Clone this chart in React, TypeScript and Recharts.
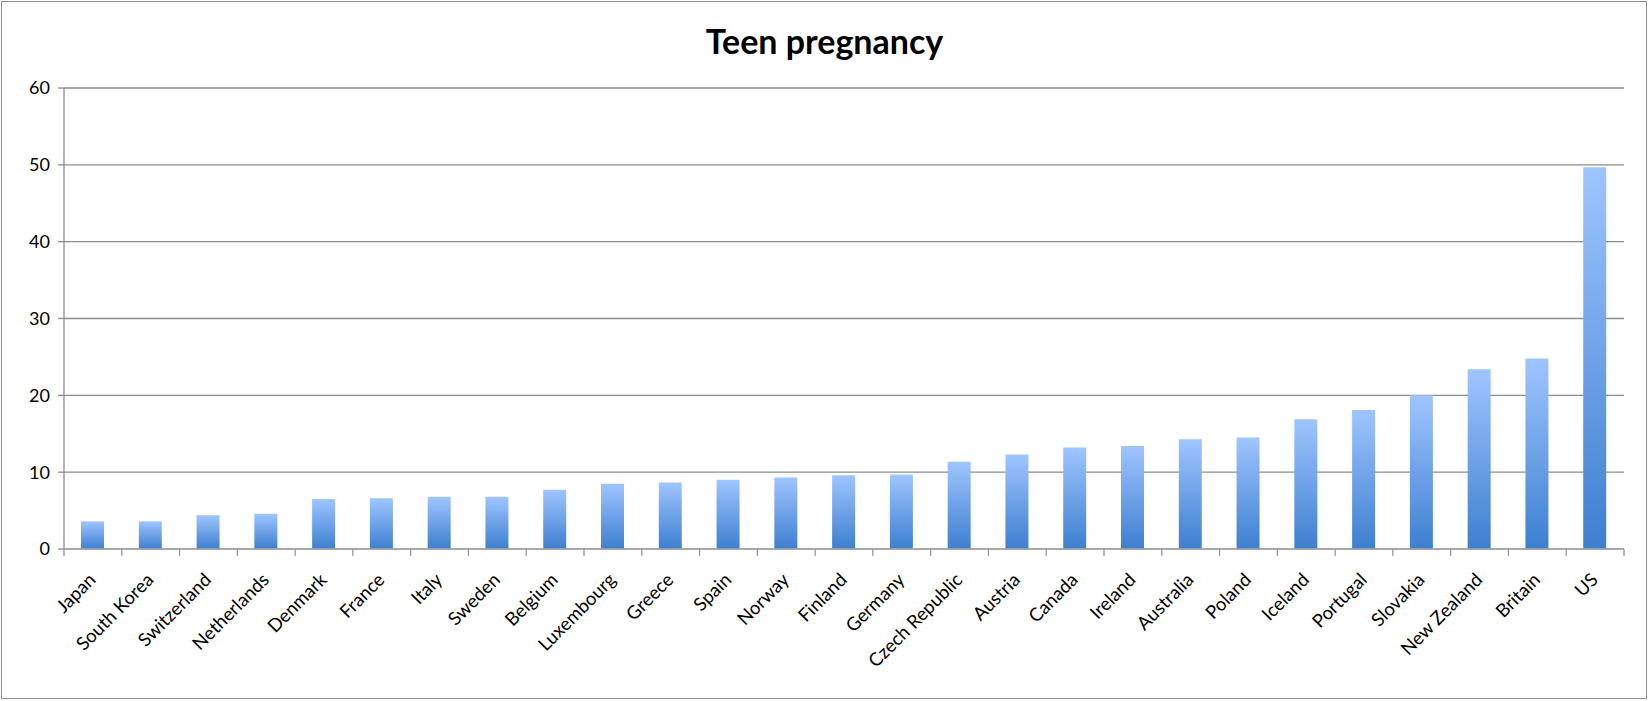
import React from "react";
import { BarChart, Bar, XAxis, YAxis, CartesianGrid } from "recharts";

const countries = [
  "Japan", "South Korea", "Switzerland", "Netherlands", "Denmark", "France", "Italy",
  "Sweden", "Belgium", "Luxembourg", "Greece", "Spain", "Norway", "Finland", "Germany",
  "Czech Republic", "Austria", "Canada", "Ireland", "Australia", "Poland", "Iceland",
  "Portugal", "Slovakia", "New Zealand", "Britain", "US",
];
const rates = [
  3.6, 3.6, 4.4, 4.6, 6.5, 6.6, 6.8, 6.8, 7.7, 8.5, 8.65, 9.0, 9.3, 9.6, 9.7,
  11.35, 12.3, 13.2, 13.4, 14.3, 14.5, 16.9, 18.1, 20.0, 23.4, 24.8, 49.7,
];
const yTicks = [0, 10, 20, 30, 40, 50, 60];
const title = "Teen pregnancy";

const data = countries.map((c, i) => ({ country: c, rate: rates[i] }));

const W = 1649;
const H = 701;
const MARGIN = { top: 88, right: 25, bottom: 12, left: 0 };
const Y_W = 64;
const FONT = "Lato, 'Open Sans', sans-serif";
const band = (W - MARGIN.left - MARGIN.right - Y_W) / countries.length;

const CatTick = (props: any) => {
  const { x, y, payload, index } = props;
  const last = index === countries.length - 1;
  const axisY = y - 8;
  return (
    <g>
      <line x1={x - band / 2} x2={x - band / 2} y1={axisY} y2={axisY + 7} stroke="#9a9a9a" strokeWidth={1.3} />
      {last && (
        <line x1={x + band / 2} x2={x + band / 2} y1={axisY} y2={axisY + 7} stroke="#9a9a9a" strokeWidth={1.3} />
      )}
      <text
        x={x + 4}
        y={axisY + 32}
        textAnchor="end"
        transform={`rotate(-45, ${x + 4}, ${axisY + 32})`}
        fontFamily={FONT}
        fontSize={18.5}
        fill="#000"
      >
        {payload.value}
      </text>
    </g>
  );
};

export default function App() {
  return (
    <div style={{ position: "absolute", left: 0, top: 0, width: W, height: H, background: "#fff" }}>
      <div
        style={{
          position: "absolute",
          left: 1,
          top: 1,
          width: W - 3,
          height: H - 3,
          border: "1.5px solid #8e8e8e",
          boxSizing: "border-box",
          pointerEvents: "none",
        }}
      />
      <div
        style={{
          position: "absolute",
          left: 0,
          top: 21,
          width: W,
          textAlign: "center",
          fontFamily: FONT,
          fontWeight: 700,
          fontSize: 34,
          lineHeight: "40.8px",
          color: "#000",
        }}
      >
        {title}
      </div>
      <div style={{ position: "absolute", left: 0, top: 0 }}>
        <BarChart width={W} height={H} data={data} margin={MARGIN} barSize={23}>
          <defs>
            <linearGradient id="barGrad" x1="0" y1="0" x2="0" y2="1">
              <stop offset="0%" stopColor="#9fc5ff" />
              <stop offset="100%" stopColor="#3d7fd0" />
            </linearGradient>
          </defs>
          <CartesianGrid vertical={false} stroke="#8c8c8c" strokeWidth={1.3} />
          <XAxis
            dataKey="country"
            interval={0}
            height={140}
            tickLine={false}
            axisLine={{ stroke: "#a8a8a8", strokeWidth: 1.3 }}
            tick={<CatTick />}
          />
          <YAxis
            width={Y_W}
            domain={[0, 60]}
            ticks={yTicks}
            tickSize={6}
            tickMargin={8}
            axisLine={{ stroke: "#8c8c8c", strokeWidth: 1.3 }}
            tickLine={{ stroke: "#8c8c8c", strokeWidth: 1.3 }}
            tick={{ fontFamily: FONT, fontSize: 18, fill: "#000" }}
          />
          <Bar dataKey="rate" fill="url(#barGrad)" isAnimationActive={false} />
        </BarChart>
      </div>
    </div>
  );
}
